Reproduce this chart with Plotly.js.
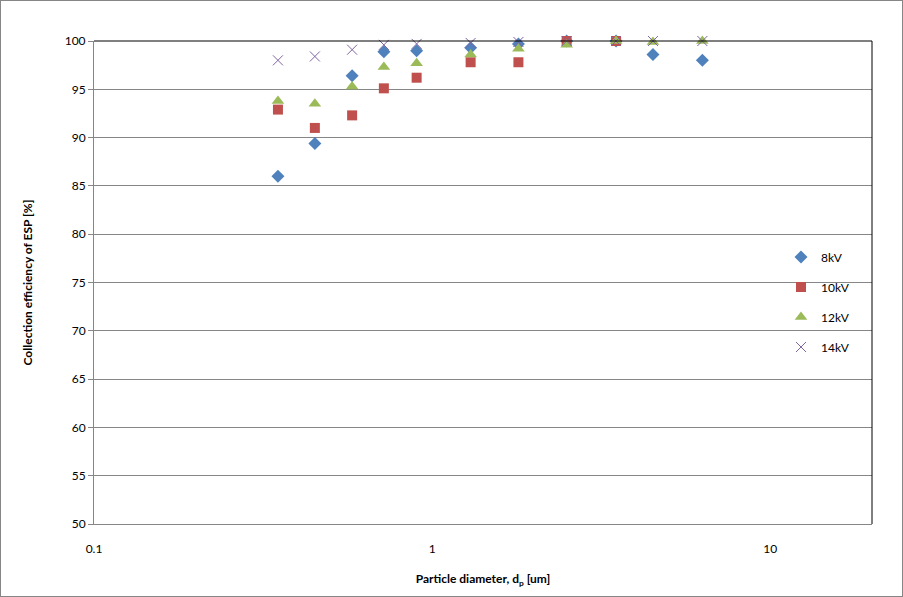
<!DOCTYPE html>
<html>
<head>
<meta charset="utf-8">
<script src="https://cdn.plot.ly/plotly-3.0.1.min.js"></script>
<style>
html,body{margin:0;padding:0;background:#fff;}
#wrap{position:relative;width:903px;height:597px;}
#chart{width:903px;height:597px;}
#frame{position:absolute;left:0;top:0;width:903px;height:597px;box-sizing:border-box;border:1px solid #868686;pointer-events:none;}
</style>
</head>
<body>
<div id="wrap"><div id="chart"></div><div id="frame"></div></div>
<script>
// Particle diameter [um]
const diameters = [0.35, 0.45, 0.58, 0.72, 0.9, 1.3, 1.8, 2.5, 3.5, 4.5, 6.3];
// Collection efficiency [%]
const eff8kV  = [86.0, 89.4, 96.4, 98.9, 99.0, 99.3, 99.7, 100, 100, 98.6, 98.0];
const eff10kV = [92.9, 91.0, 92.3, 95.1, 96.2, 97.8, 97.8, 100, 100, null, null];
const eff12kV = [93.8, 93.5, 95.3, 97.3, 97.7, 98.6, 99.2, 99.6, 100, 99.9, 100];
const eff14kV = [98.0, 98.4, 99.1, 99.6, 99.7, 99.8, 99.9, 100, 100, 100, 100];
const seriesNames = ['8kV', '10kV', '12kV', '14kV'];
const xTickVals = [0.1, 1, 10];
const xTickText = ['0.1', '1', '10'];
const yTickVals = [50, 55, 60, 65, 70, 75, 80, 85, 90, 95, 100];

const FONT = 'Lato, "Open Sans", sans-serif';
const styles = [
  {symbol: 'diamond', color: '#4F81BD', size: 10},
  {symbol: 'square', color: '#C0504D', size: 10},
  {symbol: 'triangle-up', color: '#9BBB59', size: 11},
  {symbol: 'x-thin-open', color: '#8064A2', size: 10}
];
const values = [eff8kV, eff10kV, eff12kV, eff14kV];
const legendIds = ['legend', 'legend2', 'legend3', 'legend4'];

const traces = values.map((v, i) => ({
  type: 'scatter', mode: 'markers', x: diameters, y: v, name: seriesNames[i],
  cliponaxis: false, legend: legendIds[i],
  marker: {symbol: styles[i].symbol, color: styles[i].color, size: styles[i].size,
           line: {color: styles[i].color, width: i === 3 ? 1 : 0}}
}));

const legendYpx = [257, 287, 317, 347];
const plotTop = 41, plotH = 483, plotL = 94, plotW = 778;
const legendX = (781 - plotL) / plotW;
const layout = {
  width: 903, height: 597,
  margin: {l: 94, r: 31, t: 41, b: 73},
  paper_bgcolor: '#fff', plot_bgcolor: '#fff',
  font: {family: FONT, size: 12, color: '#000'},
  showlegend: true,
  xaxis: {
    type: 'log', range: [-1, Math.log10(20)],
    tickvals: xTickVals, ticktext: xTickText,
    showgrid: false, zeroline: false,
    showline: true, linecolor: '#868686', linewidth: 1,
    ticks: 'outside', ticklen: 14, tickcolor: 'rgba(0,0,0,0)',
    tickfont: {family: FONT, size: 12, color: '#000'},
    title: {text: '<b>Particle diameter, d<sub>p</sub> [um]</b>', font: {family: FONT, size: 12, color: '#000'}, standoff: 19}
  },
  yaxis: {
    range: [50, 100], tickvals: yTickVals,
    showgrid: true, gridcolor: '#868686', gridwidth: 1, zeroline: false,
    showline: true, linecolor: '#868686', linewidth: 1,
    ticks: 'outside', ticklen: 5, tickcolor: '#868686',
    tickfont: {family: FONT, size: 12, color: '#000'},
    title: {text: '<b>Collection efficiency of ESP [%]</b>', font: {family: FONT, size: 12, color: '#000'}, standoff: 29}
  },
  shapes: [
    {type: 'line', xref: 'paper', yref: 'paper', x0: 0, x1: 1, y0: 1, y1: 1, line: {color: '#000', width: 1}},
    {type: 'line', xref: 'paper', yref: 'paper', x0: 1, x1: 1, y0: 0, y1: 1, line: {color: '#000', width: 1}}
  ]
};
legendIds.forEach((id, i) => {
  layout[id] = {
    x: legendX, xanchor: 'left',
    y: (plotTop + plotH - legendYpx[i]) / plotH, yanchor: 'middle',
    bgcolor: 'rgba(0,0,0,0)', borderwidth: 0,
    font: {family: FONT, size: 12, color: '#000'}
  };
});

Plotly.newPlot('chart', traces, layout, {displayModeBar: false, staticPlot: true});
</script>
</body>
</html>
